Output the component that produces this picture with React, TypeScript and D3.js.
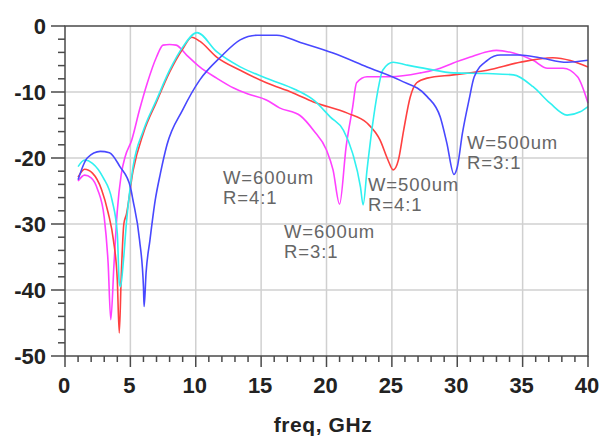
import React from "react";
import * as d3 from "d3";

const W = 602;
const H = 439;

const xTicks = [0, 5, 10, 15, 20, 25, 30, 35, 40];
const yTicks = [0, -10, -20, -30, -40, -50];

const magentaF = [1, 1.5, 2, 2.5, 3, 3.3, 3.5, 3.75, 4.0, 4.3, 4.6, 5.1, 5.7, 6.3, 7.0, 7.5, 8.0, 8.5, 9.3, 10.3, 11.6, 12.9, 14, 15.4, 16.4, 18, 19, 20, 20.5, 21, 21.5, 22, 22.3, 23.1, 24.9, 27.2, 28.7, 29.7, 31, 32.3, 33, 34.3, 35.8, 36.9, 38.1, 39.2, 40];
const magentaDb = [-23.5, -22.6, -23, -24.8, -29, -36, -44.5, -36, -28, -22.5, -19.8, -17.3, -12.7, -8.6, -4.7, -2.9, -2.8, -2.9, -4.4, -6.2, -7.9, -9.4, -10.3, -11.2, -12.4, -13.6, -15.8, -18.8, -21.8, -27, -18.3, -12.3, -8.6, -7.7, -7.7, -7.1, -6.4, -5.6, -4.7, -3.9, -3.7, -4.1, -5.2, -6.4, -6.4, -7.7, -11.7];

const redF = [1, 1.5, 2.1, 2.8, 3.3, 3.7, 4.0, 4.15, 4.3, 4.5, 4.7, 5.2, 6, 7, 8, 9, 9.7, 10.3, 11.6, 13.4, 15.4, 17.4, 19, 21.6, 23.1, 24.1, 24.7, 25.1, 25.5, 25.9, 26.4, 26.9, 27.7, 29.7, 32.3, 34.8, 37.3, 40];
const redDb = [-22.9, -21.7, -22.3, -24.8, -28.3, -32.4, -38.5, -46.5, -38, -30, -28.5, -22, -16.2, -11.5, -7, -3.5, -1.7, -2.3, -4.7, -6.7, -8.6, -10.1, -11.5, -13.2, -14.7, -17.3, -20.3, -21.8, -20.3, -15.8, -10.8, -8.6, -7.9, -7.4, -6.7, -5.5, -4.8, -6.2];

const cyanF = [1, 1.5, 2.1, 2.9, 3.6, 4.0, 4.15, 4.25, 4.45, 4.7, 5.2, 6, 7, 8, 9, 10.1, 11.6, 13.4, 15.4, 17.7, 19, 20.3, 21.3, 22, 22.6, 22.8, 23.1, 23.5, 23.9, 24.3, 25.1, 26.1, 27.7, 29.7, 32.3, 34.3, 35.8, 37.1, 38.4, 39.4, 40];
const cyanDb = [-21.3, -20.3, -20.8, -22.9, -26.4, -31.4, -38.9, -39.5, -36, -29.8, -21.4, -15.8, -11.2, -6.7, -3.2, -1, -3.9, -6.2, -7.9, -9.7, -11.2, -13.8, -15.8, -19.3, -24.4, -27.1, -21.8, -15.3, -10.1, -6.7, -5.5, -5.9, -6.5, -7.1, -7.2, -7.4, -9.2, -11.7, -13.5, -13, -12.2];

const blueF = [1, 1.7, 2.7, 3.4, 4.2, 5, 5.2, 5.7, 6.0, 6.05, 6.2, 6.5, 6.9, 7.3, 7.8, 9, 10.3, 11.9, 13.4, 14.7, 16.2, 18, 20.5, 23.1, 25.6, 27.7, 28.7, 29.2, 29.75, 30, 30.4, 30.9, 31.3, 32.3, 33.3, 34.8, 36.3, 38.4, 40];
const blueDb = [-23.3, -20, -19, -19.2, -21.3, -24.4, -26.4, -32.4, -39.5, -42.5, -37.4, -32.4, -26.4, -22.3, -18, -12.7, -8.2, -4.7, -2.1, -1.4, -1.4, -2.5, -4.1, -6.2, -8.2, -10.7, -13.8, -17.7, -22.5, -21.4, -16.2, -11.2, -7.7, -5.2, -4.4, -4.4, -4.8, -5.5, -5.2];

const seriesNames = ["magenta", "red", "cyan", "blue"];
const seriesColors = ["#ff40ff", "#ff4040", "#30f0f0", "#4848ff"];
const seriesF = [magentaF, redF, cyanF, blueF];
const seriesDb = [magentaDb, redDb, cyanDb, blueDb];

const annotLines = [
  ["W=600um", "R=4:1"],
  ["W=600um", "R=3:1"],
  ["W=500um", "R=4:1"],
  ["W=500um", "R=3:1"],
];
const annotPos = [
  [223, 184],
  [284, 238],
  [368, 191],
  [467, 149],
];

export default function App() {
  const left = 65, right = 588, top = 26, bottom = 356;
  const x = d3.scaleLinear().domain([0, 40]).range([left, right]);
  const y = d3.scaleLinear().domain([0, -50]).range([top, bottom]);

  const minorX = d3.range(0, 41, 1);
  const minorY = d3.range(0, -51, -2);

  const line = d3
    .line<[number, number]>()
    .x((d) => x(d[0]))
    .y((d) => y(d[1]))
    .curve(d3.curveMonotoneX);

  return (
    <svg
      width={W}
      height={H}
      style={{ position: "absolute", left: 0, top: 0, background: "#fff" }}
      fontFamily="'Liberation Sans', Arial, sans-serif"
    >
      <rect x={0} y={0} width={W} height={H} fill="#fff" />
      {/* grid */}
      {xTicks.slice(1, -1).map((t) => (
        <line key={"gx" + t} x1={x(t)} x2={x(t)} y1={top} y2={bottom} stroke="#d0d0d0" strokeWidth={1.5} />
      ))}
      {yTicks.slice(1, -1).map((t) => (
        <line key={"gy" + t} x1={left} x2={right} y1={y(t)} y2={y(t)} stroke="#d0d0d0" strokeWidth={1.5} />
      ))}
      {/* curves */}
      {seriesNames.map((n, i) => (
        <path
          key={n}
          d={line(seriesF[i].map((f, j) => [f, seriesDb[i][j]] as [number, number])) || ""}
          fill="none"
          stroke={seriesColors[i]}
          strokeWidth={1.6}
          strokeLinejoin="round"
        />
      ))}
      {/* frame */}
      <rect x={left} y={top} width={right - left} height={bottom - top} fill="none" stroke="#4a4a4a" strokeWidth={1.5} />
      {/* minor ticks */}
      {minorX.map((t) => (
        <line key={"mx" + t} x1={x(t)} x2={x(t)} y1={bottom} y2={t % 5 === 0 ? bottom + 11 : bottom + 6} stroke="#4a4a4a" strokeWidth={1.5} />
      ))}
      {minorY.map((t) => (
        <line key={"my" + t} x1={left} x2={t % 10 === 0 ? left - 14 : left - 7} y1={y(t)} y2={y(t)} stroke="#4a4a4a" strokeWidth={1.5} />
      ))}
      {/* tick labels */}
      {xTicks.map((t) => (
        <text key={"tx" + t} x={x(t) - 1} y={393} textAnchor="middle" fontSize={22} fontWeight="bold" fill="#222">
          {t}
        </text>
      ))}
      {yTicks.map((t) => (
        <text key={"ty" + t} x={46} y={y(t)} dy="0.36em" textAnchor="end" fontSize={22} fontWeight="bold" fill="#222">
          {t}
        </text>
      ))}
      <text x={323} y={432} textAnchor="middle" fontSize={21} fontWeight="bold" fill="#222" letterSpacing={0.6}>
        freq, GHz
      </text>
      {/* annotations */}
      {annotLines.map((ls, i) =>
        ls.map((s, k) => (
          <text
            key={"a" + i + "-" + k}
            x={annotPos[i][0]}
            y={annotPos[i][1] + k * 20}
            fontSize={18.5}
            letterSpacing={0.9}
            fill="#666"
          >
            {s}
          </text>
        ))
      )}
    </svg>
  );
}
